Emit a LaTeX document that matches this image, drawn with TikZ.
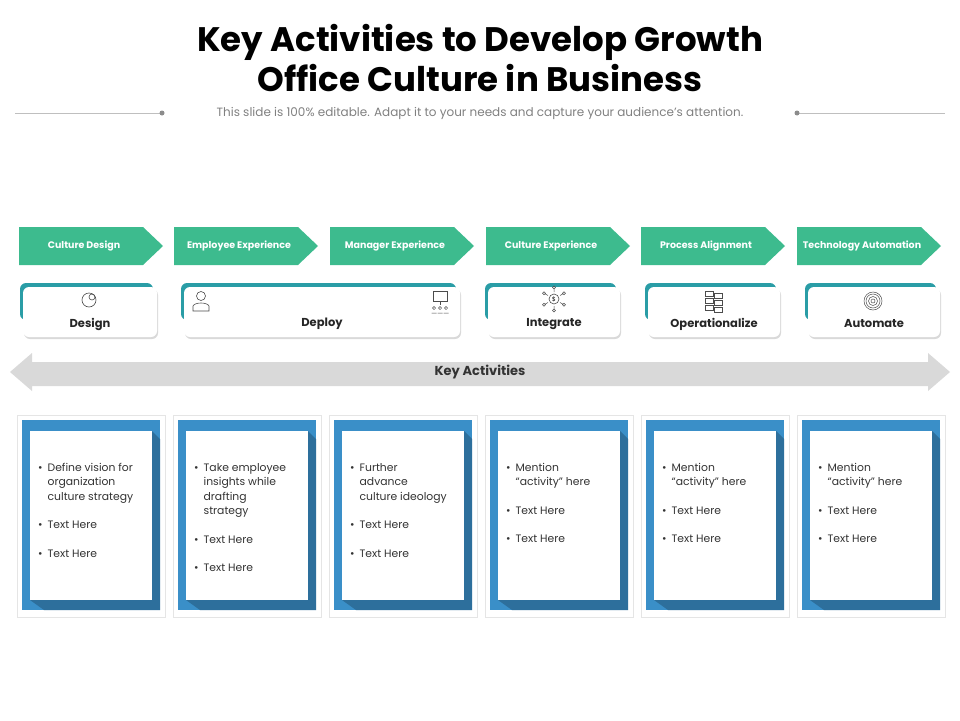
\documentclass[tikz,border=0pt]{standalone}
\usepackage{fontspec}
\setmainfont{Poppins}
\usetikzlibrary{positioning,shadows}
\definecolor{kgreen}{HTML}{3DBB8E}
\definecolor{kteal}{HTML}{2A9DA6}
\definecolor{kblue}{HTML}{3A8FC8}
\definecolor{kdark}{HTML}{2D6F9C}
\definecolor{kgray}{HTML}{D9D9D9}
\tikzset{
	stagelabel/.style={text=white, font=\fontsize{9.5}{10}\selectfont\bfseries},
	cardlabel/.style={font=\fontsize{11.5}{12}\selectfont\bfseries, text=black!85},
	bullets/.style={font=\fontsize{10.8}{14.5}\selectfont, text=black!80, align=left, anchor=north west},
}
\begin{document}
\begin{tikzpicture}[x=1pt,y=-1pt]
	\useasboundingbox (0,0) rectangle (960,720);

	% title
	\node[font=\fontsize{34}{40}\selectfont\bfseries, align=center] (title) at (480,58)
		{Key Activities to Develop Growth\\Office Culture in Business};
	\node[font=\fontsize{12}{13}\selectfont, text=black!50] (sub) at (480,113)
		{This slide is 100\% editable. Adapt it to your needs and capture your audience's attention.};
	\draw[black!25] (15,113) -- (162,113);
	\draw[black!25] (797,113) -- (945,113);
	\fill[black!45] (162,113) circle [radius=2.5];
	\fill[black!45] (797,113) circle [radius=2.5];

	% stage arrows
	\foreach \x/\name/\txt in {19/s1/Culture Design, 174/s2/Employee Experience, 330/s3/Manager Experience,
		486/s4/Culture Experience, 641/s5/Process Alignment, 797/s6/Technology Automation}{
		\fill[kgreen] (\x,227) -- (\x+124,227) -- (\x+144,246) -- (\x+124,265) -- (\x,265) -- cycle;
		\node[stagelabel] (\name) at (\x+65,246) {\txt};
	}

	% cards
	\foreach \a/\b/\name/\txt in {20/157/design/Design, 181/460/deploy/Deploy, 485/620/integrate/Integrate,
		645/780/operate/Operationalize, 805/940/automate/Automate}{
		\fill[kteal, rounded corners=6pt] (\a,283) rectangle (\b-4,320);
		\fill[white, rounded corners=6pt, drop shadow={opacity=0.3,shadow xshift=1pt,shadow yshift=-2pt}]
			(\a+3,287) rectangle (\b,337);
		\node[cardlabel] (\name) at ({(\a+\b)/2+1.5},324) {\txt};
	}

	% icons (simple)
	\draw[black!70, line width=0.6pt] (89,300) circle [radius=7];
	\draw[black!70, line width=0.6pt] (92,297) circle [radius=3];
	\draw[black!70, line width=0.6pt] (201,296) circle [radius=4.5]
		(193,311) -- (193,306) .. controls (195,302) and (207,302) .. (209,306) -- (209,311) -- cycle;
	\draw[black!70, line width=0.6pt] (433,291) rectangle (447,301) (440,301) -- (440,305);
	\foreach \i in {434,440,446}
		\draw[black!70, line width=0.5pt] (\i,308) circle [radius=1.6] (\i-2.5,313) -- (\i+2.5,313);
	\draw[black!70, line width=0.6pt] (554,299) circle [radius=5];
	\node[font=\fontsize{6}{6}\selectfont] (dollar) at (554,299) {\$};
	\foreach \ang in {30,90,150,210,270,330}
		\draw[black!70, line width=0.5pt] (554,299) ++(\ang:7) -- ++(\ang:3) ++(\ang:1.5) circle [radius=1.5];
	\foreach \yy in {291,298,305}
		\draw[black!70, line width=0.6pt] (705,\yy) rectangle (713,\yy+5) (714,\yy+2) rectangle (722,\yy+7);
	\foreach \r in {2,4.5,7,9}
		\draw[black!70, line width=0.5pt] (873,301) circle [radius=\r];

	% key activities arrow
	\fill[kgray] (10,372) -- (32,353) -- (32,362) -- (928,362) -- (928,353) -- (950,372)
		-- (928,391) -- (928,386) -- (32,386) -- (32,391) -- cycle;
	\node[font=\fontsize{13}{14}\selectfont\bfseries, text=black!80] (key) at (480,372) {Key Activities};

	% activity boxes
	\foreach \i/\txt in {0/{Define vision for\\ & organization\\ & culture strategy},
		1/{Take employee\\ & insights while\\ & drafting\\ & strategy},
		2/{Further\\ & advance\\ & culture ideology},
		3/{Mention\\ & \textquotedblleft activity\textquotedblright\ here},
		4/{Mention\\ & \textquotedblleft activity\textquotedblright\ here},
		5/{Mention\\ & \textquotedblleft activity\textquotedblright\ here}}{
		\pgfmathsetmacro{\xo}{17+156*\i}
		\draw[black!10, fill=white] (\xo,415) rectangle (\xo+148,617);
		\fill[kblue] (\xo+5,420) rectangle (\xo+143,610);
		\fill[kdark] (\xo+13,431) -- (\xo+135,431) -- (\xo+143,439) -- (\xo+143,610) -- (\xo+27,610) -- (\xo+13,600) -- cycle;
		\fill[white] (\xo+13,431) rectangle (\xo+135,600);
		\node[bullets, inner sep=0pt] (act\i) at (\xo+21,461) {%
			\begin{tabular}{@{}l@{\hspace{5pt}}l@{}}
			\textbullet & \txt\\[14pt]
			\textbullet & Text Here\\[14pt]
			\textbullet & Text Here
			\end{tabular}};
	}
\end{tikzpicture}
\end{document}
